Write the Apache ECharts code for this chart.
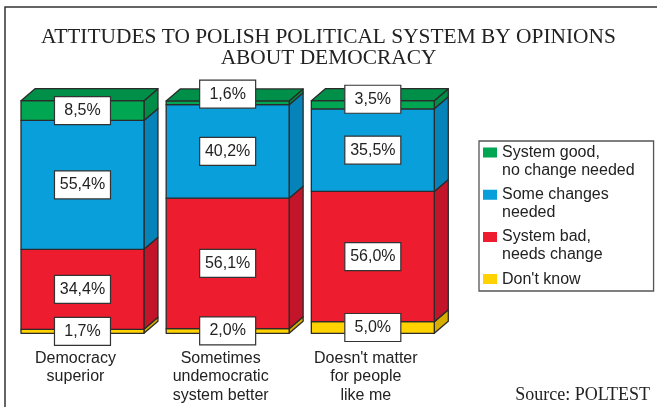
<!DOCTYPE html>
<html>
<head>
<meta charset="utf-8">
<script src="https://cdn.jsdelivr.net/npm/echarts@6/dist/echarts.min.js"></script>
<style>
  html, body { margin: 0; padding: 0; background: #fff; }
  #chart { width: 657px; height: 407px; }
</style>
</head>
<body>
<div id="chart"></div>
<script>
// Opinions about democracy (x categories)
const CATEGORIES = ['Democracy\nsuperior', 'Sometimes\nundemocratic\nsystem better', "Doesn't matter\nfor people\nlike me"];

// Attitudes to the political system, in stacking order (bottom to top), percent
const SERIES_NAMES = ["Don't know", 'System bad,\nneeds change', 'Some changes\nneeded', 'System good,\nno change needed'];
const DONT_KNOW    = [1.7, 2.0, 5.0];
const SYSTEM_BAD   = [34.4, 56.1, 56.0];
const SOME_CHANGES = [55.4, 40.2, 35.5];
const SYSTEM_GOOD  = [8.5, 1.6, 3.5];

const STACK = [DONT_KNOW, SYSTEM_BAD, SOME_CHANGES, SYSTEM_GOOD];

// Face colours: front, side and top of the pseudo-3D blocks
const FRONT = ['#ffd200', '#ed1c2e', '#089fdb', '#00a651'];
const SIDE  = ['#d7ad00', '#c31529', '#0684b9', '#008d47'];
const TOP_FACE = '#008f48';
const EDGE = '#2b2b2b';

const DX = 14;          // depth offset to the right
const DY = 12;          // depth offset upwards
const FACE_RATIO = 0.847;
const TOP_INDEX = STACK.length - 1;

const SANS = '"Liberation Sans", Arial, sans-serif';
const SERIF = '"Liberation Serif", "Times New Roman", serif';

// legend swatch sits beside the first text line of each entry
const LEGEND_ICON = 'path://M0,0L14,0L14,10L0,10ZM0,28L14,28';

function fmt(v) {
  return v.toFixed(1).replace('.', ',') + '%';
}

// cumulative [start, end] per category for every stacked layer
const layers = STACK.map(function (vals, si) {
  return vals.map(function (v, ci) {
    let start = 0;
    for (let k = 0; k < si; k++) start += STACK[k][ci];
    return [ci, start, start + v, v, si];
  });
});

function geometry(api) {
  const cat = api.value(0);
  const pb = api.coord([cat, api.value(1)]);
  const pt = api.coord([cat, api.value(2)]);
  const band = api.size([1, 0])[0];
  const w = band * FACE_RATIO;
  const cx = pb[0] + DX / 2;
  return { cx: cx, x0: cx - w / 2, x1: cx + w / 2, yb: pb[1], yt: pt[1] };
}

function blockRenderer(si) {
  return function (params, api) {
    const g = geometry(api);
    const edge = { stroke: EDGE, lineWidth: 1.3, lineJoin: 'round' };
    const children = [
      {
        type: 'polygon',
        shape: { points: [[g.x1, g.yb], [g.x1, g.yt], [g.x1 + DX, g.yt - DY], [g.x1 + DX, g.yb - DY]] },
        style: Object.assign({ fill: SIDE[si] }, edge)
      },
      {
        type: 'rect',
        shape: { x: g.x0, y: g.yt, width: g.x1 - g.x0, height: g.yb - g.yt },
        style: Object.assign({ fill: FRONT[si] }, edge)
      }
    ];
    if (si === TOP_INDEX) {
      children.push({
        type: 'polygon',
        shape: { points: [[g.x0, g.yt], [g.x0 + DX, g.yt - DY], [g.x1 + DX, g.yt - DY], [g.x1, g.yt]] },
        style: Object.assign({ fill: TOP_FACE }, edge)
      });
    }
    return { type: 'group', children: children };
  };
}

function labelRenderer(params, api) {
  const g = geometry(api);
  const si = api.value(4);
  const h = g.yb - g.yt;
  let y = (g.yb + g.yt) / 2;
  // thin top layers: lift the value box so it stays readable on the lid
  if (si === TOP_INDEX) y -= Math.max(0, (16 - h) * 0.7);
  return {
    type: 'group',
    children: [
      {
        type: 'rect',
        shape: { x: g.cx - 28, y: y - 14, width: 56, height: 28 },
        style: { fill: '#fff', stroke: '#333', lineWidth: 1.2 }
      },
      {
        type: 'text',
        style: {
          text: fmt(api.value(3)), x: g.cx, y: y,
          align: 'center', verticalAlign: 'middle',
          fontSize: 16, fontFamily: SANS, fill: '#222'
        }
      }
    ]
  };
}

const series = [];
STACK.forEach(function (vals, si) {
  series.push({
    type: 'custom',
    name: SERIES_NAMES[si],
    renderItem: blockRenderer(si),
    data: layers[si],
    itemStyle: { color: FRONT[si] },
    encode: { x: 0, y: [1, 2] },
    z: 2
  });
});
series.push({
  type: 'custom',
  name: 'values',
  renderItem: labelRenderer,
  data: [].concat.apply([], layers),
  encode: { x: 0, y: [1, 2] },
  silent: true,
  z: 10
});

const chart = echarts.init(document.getElementById('chart'), null, { renderer: 'canvas' });
chart.setOption({
  animation: false,
  backgroundColor: '#fff',
  title: {
    text: 'ATTITUDES TO POLISH POLITICAL SYSTEM BY OPINIONS\nABOUT DEMOCRACY',
    left: 'center',
    top: 27,
    padding: [0, 0, 0, 4],
    textStyle: { fontFamily: SERIF, fontSize: 21.4, fontWeight: 'normal', color: '#222', lineHeight: 21 }
  },
  legend: {
    orient: 'vertical',
    left: 479,
    top: 141,
    icon: LEGEND_ICON,
    itemWidth: 14,
    itemHeight: 28,
    itemGap: 6.2,
    padding: [2.5, 19, -15.1, 4],
    backgroundColor: '#fff',
    borderColor: '#555',
    borderWidth: 1.3,
    selectedMode: false,
    itemStyle: { borderWidth: 0 },
    formatter: function (name) {
      // single-line entry keeps the same two-line slot as the others
      return name.indexOf('\n') < 0 ? name + '\n ' : name;
    },
    textStyle: { fontFamily: SANS, fontSize: 16, color: '#222', lineHeight: 18 },
    data: [SERIES_NAMES[3], SERIES_NAMES[2], SERIES_NAMES[1], SERIES_NAMES[0]]
  },
  grid: { left: 2.9, right: 218.6, top: 100.7, height: 232.6, containLabel: false },
  xAxis: {
    type: 'category',
    data: CATEGORIES,
    axisLine: { show: false },
    axisTick: { show: false },
    splitLine: { show: false },
    axisLabel: {
      interval: 0, margin: 16, fontFamily: SANS, fontSize: 16, lineHeight: 18.5, color: '#222'
    }
  },
  yAxis: {
    type: 'value', min: 0, max: 100, show: false, splitLine: { show: false }
  },
  graphic: [
    {
      type: 'rect', silent: true, z: -1,
      shape: { x: 5, y: 7, width: 700, height: 450 },
      style: { fill: 'none', stroke: '#333', lineWidth: 1.5 }
    },
    {
      type: 'text', silent: true,
      style: {
        text: 'Source: POLTEST', x: 650, y: 395.5,
        align: 'right', verticalAlign: 'middle',
        fontFamily: SERIF, fontSize: 18, fill: '#222'
      }
    }
  ],
  series: series
});
</script>
</body>
</html>
